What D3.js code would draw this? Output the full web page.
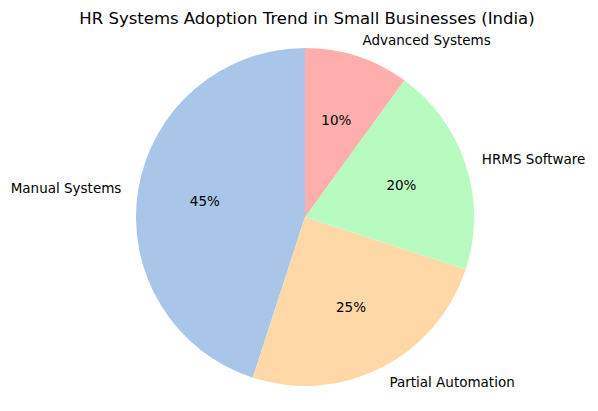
<!DOCTYPE html>
<html>
<head>
<meta charset="utf-8">
<script src="https://cdn.jsdelivr.net/npm/d3@7"></script>
<style>
  body { margin: 0; background: #fff; }
  text { font-family: "DejaVu Sans", sans-serif; fill: #000; }
</style>
</head>
<body>
<div id="chart"></div>
<script>
// Data
var labels = ["Manual Systems", "Partial Automation", "HRMS Software", "Advanced Systems"];
var shares = [45, 25, 20, 10];
var colors = ["#a9c6e9", "#ffd8a8", "#b8fbc0", "#ffaeae"];

var width = 598, height = 411;
var cx = 305, cy = 217, radius = 169;

var svg = d3.select("#chart")
    .append("svg")
        .attr("width", width)
        .attr("height", height);

svg.append("text")
    .attr("x", 307)
    .attr("y", 24)
    .attr("text-anchor", "middle")
    .attr("font-size", "16.5px")
    .text("HR Systems Adoption Trend in Small Businesses (India)");

// matplotlib style: start at top, go counter-clockwise
var pie = d3.pie()
    .sort(null)
    .startAngle(0)
    .endAngle(-2 * Math.PI)
    .value(d => d);

var arcs = pie(shares);
var arc = d3.arc().innerRadius(0).outerRadius(radius);

var g = svg.append("g")
    .attr("transform", `translate(${cx}, ${cy})`);

g.selectAll("path")
    .data(arcs)
    .enter()
    .append("path")
        .attr("d", arc)
        .attr("fill", (d, i) => colors[i]);

// point on the circle at the middle of a slice, scaled by k
function mid(d, k) {
    var a = (d.startAngle + d.endAngle) / 2;
    return [Math.sin(a) * radius * k, -Math.cos(a) * radius * k];
}

g.selectAll(".pct")
    .data(arcs)
    .enter()
    .append("text")
        .attr("class", "pct")
        .attr("x", d => mid(d, 0.6)[0])
        .attr("y", d => mid(d, 0.6)[1])
        .attr("dy", "0.35em")
        .attr("text-anchor", "middle")
        .attr("font-size", "13.5px")
        .text(d => d.data + "%");

g.selectAll(".lbl")
    .data(arcs)
    .enter()
    .append("text")
        .attr("class", "lbl")
        .attr("x", d => mid(d, 1.1)[0])
        .attr("y", d => mid(d, 1.1)[1])
        .attr("dy", "0.35em")
        .attr("text-anchor", d => mid(d, 1)[0] < 0 ? "end" : "start")
        .attr("font-size", "13.5px")
        .text((d, i) => labels[i]);
</script>
</body>
</html>
